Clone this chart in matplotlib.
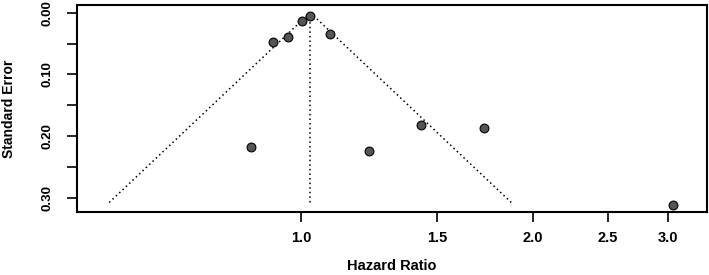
import numpy as np
import matplotlib
matplotlib.use("Agg")
import matplotlib.pyplot as plt

plt.rcParams['font.family'] = ['Liberation Sans', 'DejaVu Sans']

# study estimates (hazard ratio) and standard errors
hr = [1.027, 1.003, 0.92, 0.96, 1.09, 0.86, 1.225, 1.43, 1.73, 3.04]
se = [0.005, 0.013, 0.047, 0.039, 0.034, 0.217, 0.224, 0.182, 0.186, 0.311]
pooled_hr = 1.027
se_max = 0.31
xticks = [1.0, 1.5, 2.0, 2.5, 3.0]
yticks = [0.00, 0.05, 0.10, 0.15, 0.20, 0.25, 0.30]

fig = plt.figure(figsize=(7.09, 2.75), dpi=100)
ax = fig.add_axes([0.1086, 0.229, 0.889, 0.753])

# funnel
s = np.array([0, se_max])
c = np.log(pooled_hr)
ax.plot(np.exp(c - 1.96 * s), s, ls=(0, (1, 2)), color="black", lw=1.1)
ax.plot(np.exp(c + 1.96 * s), s, ls=(0, (1, 2)), color="black", lw=1.1)
ax.plot([pooled_hr, pooled_hr], [0, se_max], ls=(0, (1, 2)), color="black", lw=1.1)

ax.scatter(hr, se, s=40, color="#555555", edgecolor="black", linewidth=0.8, zorder=3)

ax.set_xscale("log")
ax.set_xlim(0.511, 3.37)
ax.set_ylim(0.3224, -0.0124)
ax.set_xticks(xticks)
ax.set_xticklabels([f"{t:.1f}" for t in xticks], fontweight="bold", fontsize=10.5)
ax.minorticks_off()
ax.set_yticks(yticks)
ax.set_yticklabels([f"{t:.2f}" if i % 2 == 0 else "" for i, t in enumerate(yticks)],
                   rotation=90, va="center", fontweight="bold", fontsize=9.5)
ax.tick_params(length=7, width=1.2)
ax.tick_params(axis="y", pad=10)
ax.tick_params(axis="x", pad=7)
for sp in ax.spines.values():
    sp.set_linewidth(1.5)

ax.set_xlabel("Hazard Ratio", fontweight="bold", fontsize=10.5, labelpad=10)
ax.set_ylabel("Standard Error", fontweight="bold", fontsize=10, labelpad=18)

fig.savefig("out.png", dpi=100)
